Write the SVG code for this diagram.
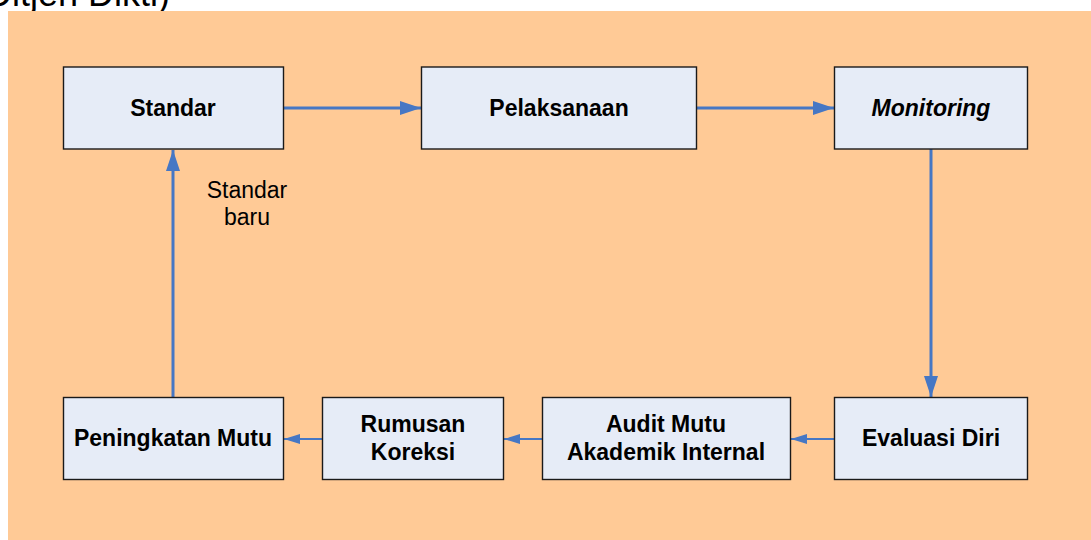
<svg xmlns="http://www.w3.org/2000/svg" width="1091" height="540" viewBox="0 0 1091 540">
<defs>
<style>
.box{fill:#E6ECF7;stroke:#1a1a1a;stroke-width:1.4}
.lbl{font-family:"Liberation Sans",Arial,sans-serif;font-size:23px;font-weight:bold;fill:#000;text-anchor:middle}
.thick{stroke:#4677C4;stroke-width:3;fill:none}
.thin{stroke:#4677C4;stroke-width:2;fill:none}
.note{font-family:"Liberation Sans",Arial,sans-serif;font-size:23px;fill:#000;text-anchor:middle}
</style>
<marker id="ah" viewBox="0 0 21 14" refX="21" refY="7" markerWidth="21" markerHeight="14" markerUnits="userSpaceOnUse" orient="auto">
<path d="M0,0 L21,7 L0,14 Z" fill="#4677C4"/>
</marker>
<marker id="ahs" viewBox="0 0 16 10" refX="16" refY="5" markerWidth="16" markerHeight="10" markerUnits="userSpaceOnUse" orient="auto">
<path d="M0,0 L16,5 L0,10 Z" fill="#4677C4"/>
</marker>
</defs>
<rect width="1091" height="540" fill="#FFFFFF"/>
<text x="170" y="6" font-family="'Liberation Sans',Arial,sans-serif" font-size="36" text-anchor="end" fill="#000">Ditjen Dikti)</text>
<rect x="8" y="11" width="1083" height="529" fill="#FFCA96"/>

<g id="connectors">
<line class="thick" x1="284" y1="108" x2="421" y2="108" marker-end="url(#ah)"/>
<line class="thick" x1="697" y1="108" x2="834" y2="108" marker-end="url(#ah)"/>
<line class="thick" x1="931" y1="149" x2="931" y2="397" marker-end="url(#ah)"/>
<line class="thin" x1="834" y1="439" x2="791" y2="439" marker-end="url(#ahs)"/>
<line class="thin" x1="542" y1="439" x2="504" y2="439" marker-end="url(#ahs)"/>
<line class="thin" x1="322" y1="439" x2="284" y2="439" marker-end="url(#ahs)"/>
<line class="thick" x1="173" y1="397" x2="173" y2="150" marker-end="url(#ah)"/>
</g>

<g id="standar">
<rect class="box" x="63.5" y="67" width="220" height="82"/>
<text class="lbl" x="173" y="116">Standar</text>
</g>
<g id="pelaksanaan">
<rect class="box" x="421.5" y="67" width="275" height="82"/>
<text class="lbl" x="559" y="116">Pelaksanaan</text>
</g>
<g id="monitoring">
<rect class="box" x="834.5" y="67" width="193" height="82"/>
<text class="lbl" x="931" y="116" font-style="italic">Monitoring</text>
</g>
<g id="evaluasi">
<rect class="box" x="834.5" y="397.5" width="193" height="82"/>
<text class="lbl" x="931" y="446">Evaluasi Diri</text>
</g>
<g id="audit">
<rect class="box" x="542.5" y="397.5" width="248" height="82"/>
<text class="lbl" x="666" y="432">Audit Mutu</text>
<text class="lbl" x="666" y="460">Akademik Internal</text>
</g>
<g id="rumusan">
<rect class="box" x="322.5" y="397.5" width="181" height="82"/>
<text class="lbl" x="413" y="432">Rumusan</text>
<text class="lbl" x="413" y="460">Koreksi</text>
</g>
<g id="peningkatan">
<rect class="box" x="63.5" y="397.5" width="220" height="82"/>
<text class="lbl" x="173" y="446">Peningkatan Mutu</text>
</g>
<g id="label-standar-baru">
<text class="note" x="247" y="198">Standar</text>
<text class="note" x="247" y="225">baru</text>
</g>
</svg>
